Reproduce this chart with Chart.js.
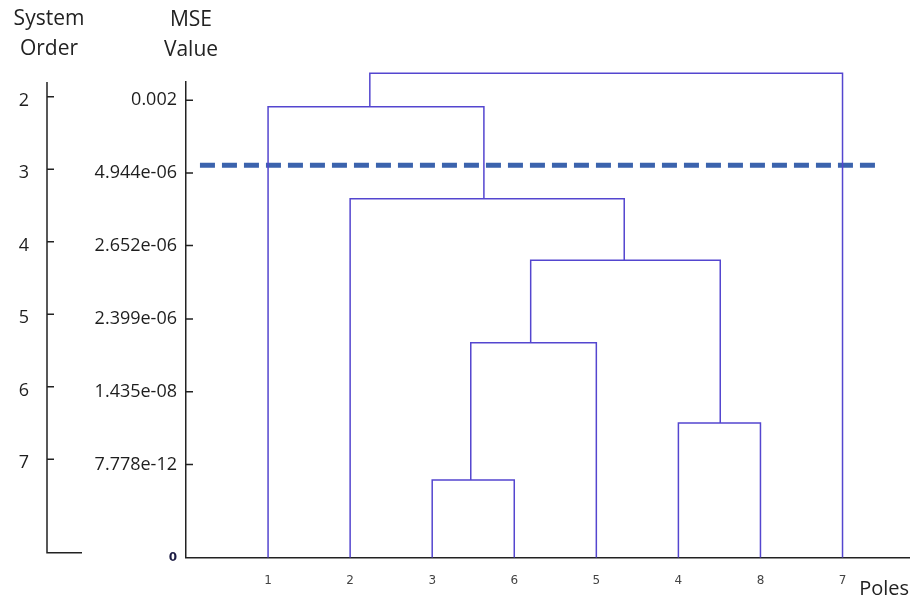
<!DOCTYPE html>
<html>
<head>
<meta charset="utf-8">
<script src="https://cdn.jsdelivr.net/npm/chart.js@4/dist/chart.umd.min.js"></script>
<style>
  html, body { margin: 0; padding: 0; background: #fff; }
  canvas { display: block; }
</style>
</head>
<body>
<canvas id="dendro" width="917" height="598"></canvas>
<script>
// leaves, left to right
const poles = ['1', '2', '3', '6', '5', '4', '8', '7'];
const polePositions = [0, 1, 2, 3, 4, 5, 6, 7];

// MSE axis (levels are the drawn heights of the ticks)
const mseLabels = ['0', '7.778e-12', '1.435e-08', '2.399e-06', '2.652e-06', '4.944e-06', '0.002'];
const mseLevels = [0, 1.28, 2.28, 3.28, 4.29, 5.29, 6.29];

// system order axis
const systemOrders = [2, 3, 4, 5, 6, 7];
const orderAxisEnd = 8.29;

// dendrogram links: legs at leftX / rightX, rising from their bases to top
const linkLeftX     = [2,     5,    2.47,  3.20,  1,     0,     1.24];
const linkRightX    = [3,     6,    4,     5.51,  4.34,  2.63,  7];
const linkLeftBase  = [0,     0,    1.065, 2.955, 0,     0,     6.20];
const linkRightBase = [0,     0,    0,     1.85,  4.09,  4.935, 0];
const linkTop       = [1.065, 1.85, 2.955, 4.09,  4.935, 6.20,  6.66];

// cut line
const cutLevel = 5.395;
const cutFrom = -0.83;
const cutTo = 7.43;

const orderTitle = ['System', 'Order'];
const mseTitle = ['MSE', 'Value'];

const linkColor = '#5446cf';
const axisColor = '#222';

const datasets = linkTop.map((top, i) => ({
  data: [
    { x: linkLeftX[i], y: linkLeftBase[i] },
    { x: linkLeftX[i], y: top },
    { x: linkRightX[i], y: top },
    { x: linkRightX[i], y: linkRightBase[i] }
  ],
  borderColor: linkColor,
  borderWidth: 1.5,
  pointRadius: 0,
  fill: false,
  tension: 0,
  clip: false
}));

datasets.push({
  data: [{ x: cutFrom, y: cutLevel }, { x: cutTo, y: cutLevel }],
  borderColor: '#3b63ad',
  borderWidth: 5,
  borderDash: [15, 7],
  borderCapStyle: 'butt',
  pointRadius: 0,
  fill: false,
  clip: false
});

const decor = {
  id: 'decor',
  afterDraw(chart) {
    const ctx = chart.ctx;
    const y = chart.scales.y;
    const yo = chart.scales.yOrder;
    const area = chart.chartArea;
    ctx.save();
    ctx.strokeStyle = axisColor;
    ctx.lineWidth = 1.5;
    ctx.beginPath();
    y.ticks.forEach(t => {
      if (!t.value) return;
      const py = y.getPixelForValue(t.value);
      ctx.moveTo(y.right, py);
      ctx.lineTo(y.right + 7, py);
    });
    yo.ticks.forEach(t => {
      const py = yo.getPixelForValue(t.value);
      ctx.moveTo(yo.right, py);
      ctx.lineTo(yo.right + 7, py);
    });
    // order axis with its foot
    const yEnd = yo.getPixelForValue(orderAxisEnd);
    ctx.moveTo(yo.right, area.top);
    ctx.lineTo(yo.right, yEnd);
    ctx.lineTo(yo.right + 35, yEnd);
    ctx.stroke();

    ctx.fillStyle = axisColor;
    ctx.font = '21px "Open Sans"';
    ctx.textAlign = 'center';
    ctx.textBaseline = 'middle';
    orderTitle.forEach((t, i) => ctx.fillText(t, yo.right + 2, 19 + i * 30));
    mseTitle.forEach((t, i) => ctx.fillText(t, y.right + 5, 20 + i * 30));
    ctx.restore();
  }
};

new Chart(document.getElementById('dendro'), {
  type: 'line',
  data: { datasets },
  plugins: [decor],
  options: {
    responsive: false,
    animation: false,
    devicePixelRatio: 1,
    layout: { padding: { top: 82, right: 8, bottom: 0, left: 0 } },
    plugins: { legend: { display: false }, tooltip: { enabled: false } },
    scales: {
      x: {
        type: 'linear',
        min: -1,
        max: 7.81,
        afterBuildTicks: s => { s.ticks = polePositions.map(v => ({ value: v })); },
        afterFit: s => { s.height = 40.5; },
        grid: { display: false },
        border: { display: true, color: axisColor, width: 1.5 },
        ticks: {
          padding: 8,
          color: '#444',
          font: { family: 'DejaVu Sans', size: 12 },
          callback: (v, i) => poles[i]
        },
        title: {
          display: true,
          text: 'Poles',
          align: 'end',
          color: axisColor,
          font: { family: 'Open Sans', size: 20, lineHeight: 1 },
          padding: { top: 0, bottom: -1 }
        }
      },
      y: {
        type: 'linear',
        position: 'left',
        weight: 0,
        min: 0,
        max: 6.54,
        afterBuildTicks: s => { s.ticks = mseLevels.map(v => ({ value: v })); },
        afterFit: s => { s.width = 139; },
        grid: { drawOnChartArea: false, drawTicks: false },
        border: { display: true, color: axisColor, width: 1.5 },
        ticks: {
          padding: 9,
          color: ctx => ctx.index === 0 ? '#1c1c44' : '#1e1e1e',
          font: ctx => ctx.index === 0
            ? { family: 'DejaVu Sans', size: 12, weight: 'bold' }
            : { family: 'Open Sans', size: 18 },
          callback: (v, i) => mseLabels[i]
        }
      },
      yOrder: {
        type: 'linear',
        position: 'left',
        weight: 1,
        reverse: true,
        min: 1.797,
        max: 8.356,
        afterBuildTicks: s => { s.ticks = systemOrders.map(v => ({ value: v })); },
        afterFit: s => { s.width = 47; },
        grid: { drawOnChartArea: false, drawTicks: false },
        border: { display: false },
        ticks: {
          padding: 18,
          labelOffset: 4,
          color: '#1e1e1e',
          font: { family: 'Open Sans', size: 18 },
          callback: v => String(v)
        }
      }
    }
  }
});
</script>
</body>
</html>
